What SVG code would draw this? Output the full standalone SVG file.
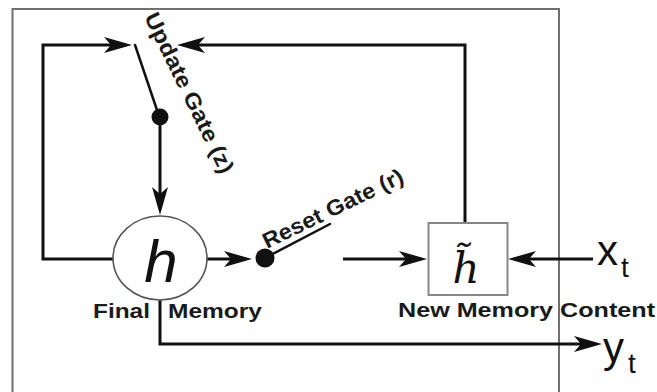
<svg xmlns="http://www.w3.org/2000/svg" width="657" height="392" viewBox="0 0 657 392">
  <style>
    .wire { fill: none; stroke: #111; stroke-width: 3; stroke-linejoin: miter; }
    .switch { fill: none; stroke: #111; stroke-width: 2.5; stroke-linecap: round; }
    .dot { fill: #111; }
    .lbl { font-family: "Liberation Sans", Arial, sans-serif; font-weight: bold; font-size: 21px; fill: #1a1a1a; }
    .gate { font-family: "Liberation Sans", Arial, sans-serif; font-weight: bold; font-size: 22px; fill: #1a1a1a; }
    .io { font-family: "Liberation Sans", Arial, sans-serif; fill: #111; }
  </style>
  <defs>
    <marker id="arr" viewBox="0 0 28 16" refX="22" refY="8" markerWidth="28" markerHeight="16" markerUnits="userSpaceOnUse" orient="auto">
      <path d="M0,0 L28,8 L0,16 L7,8 Z" fill="#111"/>
    </marker>
  </defs>

  <rect width="657" height="392" fill="#fff"/>

  <!-- cell boundary (bottom edge runs off the canvas) -->
  <rect id="cell" x="12.5" y="9" width="546.5" height="390" fill="none" stroke="#707070" stroke-width="2"/>

  <g id="connectors">
    <!-- feedback from final memory to the update gate -->
    <path class="wire" d="M113,259 H43 V45 H126" marker-end="url(#arr)"/>
    <!-- new memory content back to the update gate -->
    <path class="wire" d="M465,223 V45 H183" marker-end="url(#arr)"/>
    <!-- update gate output into h -->
    <path class="wire" d="M160,117 V209" marker-end="url(#arr)"/>
    <!-- h into reset gate -->
    <path class="wire" d="M207,259 H246" marker-end="url(#arr)"/>
    <!-- reset gate into new memory -->
    <path class="wire" d="M343,259 H421" marker-end="url(#arr)"/>
    <!-- x_t input -->
    <path class="wire" d="M593,259 H514" marker-end="url(#arr)"/>
    <!-- y_t output -->
    <path class="wire" d="M160,300 V344 H596" marker-end="url(#arr)"/>
  </g>

  <g id="update-gate">
    <line class="switch" x1="135" y1="45" x2="159" y2="116"/>
    <circle class="dot" cx="160" cy="117" r="8.5"/>
    <text class="gate" transform="translate(144,17) rotate(64)" textLength="176" lengthAdjust="spacingAndGlyphs">Update Gate (z)</text>
  </g>

  <g id="final-memory">
    <ellipse cx="160" cy="258" rx="47" ry="42" fill="#fff" stroke="#555" stroke-width="1.6"/>
    <text x="161" y="282" text-anchor="middle" font-family="Liberation Sans, Arial, sans-serif" font-style="italic" font-size="60" fill="#111">h</text>
    <text class="lbl" x="93" y="318" textLength="57" lengthAdjust="spacingAndGlyphs">Final</text>
    <text class="lbl" x="168" y="318" textLength="94" lengthAdjust="spacingAndGlyphs">Memory</text>
  </g>

  <g id="reset-gate">
    <line class="switch" x1="265" y1="258" x2="330" y2="224"/>
    <circle class="dot" cx="265" cy="258" r="9.5"/>
    <text class="gate" transform="translate(267,249) rotate(-26)" textLength="154" lengthAdjust="spacingAndGlyphs">Reset Gate (r)</text>
  </g>

  <g id="new-memory">
    <rect x="428.5" y="223" width="79" height="72" fill="#fff" stroke="#888" stroke-width="2"/>
    <!-- h with a combining tilde (U+0303) -->
    <text x="466" y="283" text-anchor="middle" font-family="DejaVu Serif, serif" font-style="italic" font-size="42" fill="#111">h&#x303;</text>
    <text class="lbl" x="398" y="317" textLength="257" lengthAdjust="spacingAndGlyphs">New Memory Content</text>
  </g>

  <g id="input-x">
    <text class="io" x="597" y="265" font-size="42">x</text>
    <text class="io" x="621" y="277" font-size="28">t</text>
  </g>

  <g id="output-y">
    <text class="io" x="603" y="362" font-size="42">y</text>
    <text class="io" x="628" y="373" font-size="28">t</text>
  </g>
</svg>
